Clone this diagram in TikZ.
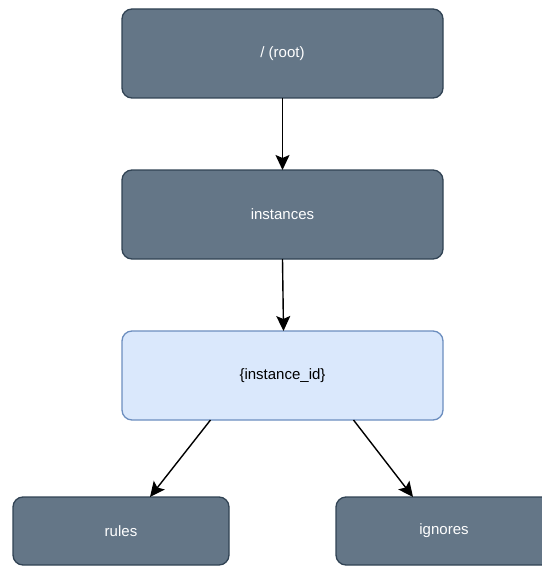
\documentclass[tikz,border=0pt]{standalone}
\usepackage{fontspec}
\setmainfont{Liberation Sans}
\usetikzlibrary{arrows.meta}

\definecolor{slatefill}{HTML}{647687}
\definecolor{slateline}{HTML}{314354}
\definecolor{bluefill}{HTML}{DAE8FC}
\definecolor{blueline}{HTML}{6C8EBF}

\begin{document}
\begin{tikzpicture}[x=1pt, y=-1pt,
    darkbox/.style={draw=slateline, fill=slatefill, text=white, line width=1.3pt,
        rounded corners=10pt, inner sep=0pt, outer sep=0pt,
        font=\fontsize{15}{18}\selectfont},
    lightbox/.style={darkbox, draw=blueline, fill=bluefill, text=black},
    link/.style={line width=1.4pt, -{Stealth[length=15pt, width=14pt, inset=3pt]}}]
    \useasboundingbox (0,0) rectangle (541,567);

    % Path tree
    \node[darkbox, minimum width=321pt, minimum height=89pt] (root) at (282.5,53.5) {/ (root)};
    \node[darkbox, minimum width=321pt, minimum height=89pt] (inst) at (282.5,214.5) {instances};
    \node[lightbox, minimum width=321pt, minimum height=89pt] (instid) at (282.5,375.5) {\{instance\_id\}};
    \node[darkbox, minimum width=216pt, minimum height=68pt] (rules) at (121,531) {rules};
    \node[darkbox, minimum width=216pt, minimum height=68pt] (ignores) at (444,531) {ignores};

    % Links
    \draw[link] (root.south) -- (inst.north);
    \draw[link] (inst.south) -- ([xshift=1pt]instid.north);
    \draw[link] ([xshift=-72pt]instid.south) -- ([xshift=29pt]rules.north);
    \draw[link] ([xshift=71pt]instid.south) -- ([xshift=-31pt]ignores.north);
\end{tikzpicture}
\end{document}
